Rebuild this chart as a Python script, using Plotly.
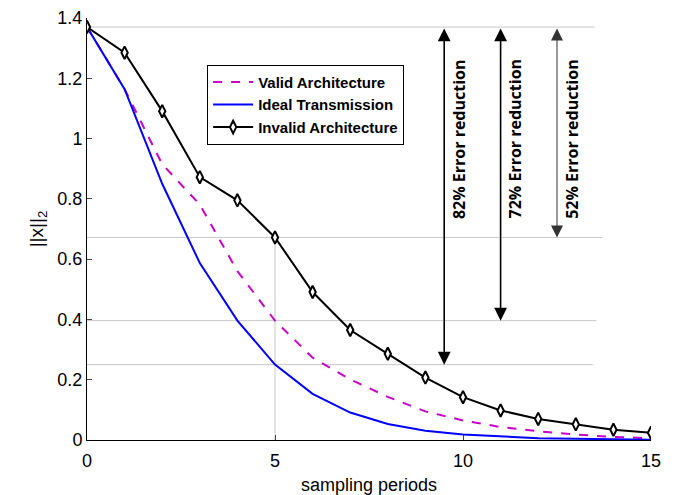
import plotly.graph_objects as go

periods = list(range(16))
valid_arch = [1.37, 1.164, 0.915, 0.781, 0.560, 0.396, 0.273, 0.201, 0.143, 0.095,
              0.065, 0.043, 0.029, 0.018, 0.010, 0.006]
ideal_tx = [1.37, 1.164, 0.850, 0.587, 0.396, 0.250, 0.153, 0.091, 0.053, 0.031,
            0.018, 0.011, 0.006, 0.004, 0.002, 0.001]
invalid_arch = [1.37, 1.285, 1.091, 0.872, 0.795, 0.672, 0.491, 0.365, 0.286, 0.207,
                0.142, 0.098, 0.070, 0.052, 0.034, 0.024]

reduction_labels = ["82% Error reduction", "72% Error reduction", "52% Error reduction"]
reduction_x = [9.5, 11.0, 12.5]
ref_index = 5

fig = go.Figure()
fig.add_trace(go.Scatter(x=periods, y=valid_arch, mode="lines", name="Valid Architecture",
                         line=dict(color="#C800C8", width=2, dash="dash")))
fig.add_trace(go.Scatter(x=periods, y=ideal_tx, mode="lines", name="Ideal Transmission",
                         line=dict(color="#0000FF", width=2)))
fig.add_trace(go.Scatter(x=periods, y=invalid_arch, mode="lines+markers", name="Invalid Architecture",
                         line=dict(color="black", width=2),
                         marker=dict(symbol="diamond-tall", size=9, color="white",
                                     line=dict(color="black", width=2))))

grid_col = "#c8c8c8"
start = invalid_arch[0]
ends = [ideal_tx[ref_index], valid_arch[ref_index], invalid_arch[ref_index]]
# reference lines
fig.add_shape(type="line", x0=0, x1=13.5, y0=start, y1=start, layer="below",
              line=dict(color=grid_col, width=1))
for yv, xe in zip(ends, [13.45, 13.55, 13.7]):
    fig.add_shape(type="line", x0=0, x1=xe, y0=yv, y1=yv, layer="below",
                  line=dict(color=grid_col, width=1))
fig.add_shape(type="line", x0=ref_index, x1=ref_index, y0=0, y1=invalid_arch[ref_index],
              layer="below", line=dict(color=grid_col, width=1))

arrow_cols = ["black", "black", "#333333"]
arrow_w = [1.6, 1.6, 1.0]
arrow_sz = [1.6, 1.6, 2.4]
for xa, ye, lab, c, w, s in zip(reduction_x, ends, reduction_labels, arrow_cols, arrow_w, arrow_sz):
    fig.add_annotation(x=xa, y=ye, ax=xa, ay=start, xref="x", yref="y", axref="x", ayref="y",
                       text="", showarrow=True, arrowhead=2, startarrowhead=2,
                       arrowside="end+start", arrowsize=s, startarrowsize=s,
                       arrowwidth=w, arrowcolor=c, standoff=0, startstandoff=0)
    fig.add_annotation(x=xa + 0.38, y=1.0, xref="x", yref="y", text=lab, showarrow=False,
                       textangle=-90,
                       font=dict(family="Open Sans", size=16, color="black", weight="bold"))

fig.update_layout(
    width=669, height=487,
    margin=dict(l=79, r=26, t=10, b=55),
    plot_bgcolor="white", paper_bgcolor="white",
    showlegend=True,
    legend=dict(x=0.213, y=0.889, xanchor="left", yanchor="top",
                bordercolor="black", borderwidth=1, bgcolor="white",
                font=dict(family="Liberation Sans", size=15, color="black", weight="bold"),
                tracegroupgap=0, itemwidth=40),
    font=dict(family="Liberation Sans", color="black"),
)
fig.update_xaxes(range=[0, 15], tickvals=[0, 5, 10, 15], ticks="inside", ticklen=5,
                 automargin=False, ticklabeloverflow="allow", ticklabelstandoff=4,
                 showgrid=False, zeroline=False, showline=True, linecolor="black", linewidth=1,
                 tickfont=dict(size=18), title=dict(text="sampling periods", font=dict(size=18),
                                                    standoff=8))
fig.update_yaxes(range=[0, 1.4], tickvals=[0, 0.2, 0.4, 0.6, 0.8, 1.0, 1.2, 1.4],
                 ticktext=["0", "0.2", "0.4", "0.6", "0.8", "1", "1.2", "1.4"],
                 ticks="inside", ticklen=5, automargin=False, ticklabeloverflow="allow",
                 showgrid=False, zeroline=False, showline=True, linecolor="black", linewidth=1,
                 tickfont=dict(size=18), title=dict(text="||x||<sub>2</sub>", font=dict(size=19),
                                                    standoff=8))

fig.write_html("out.html")
